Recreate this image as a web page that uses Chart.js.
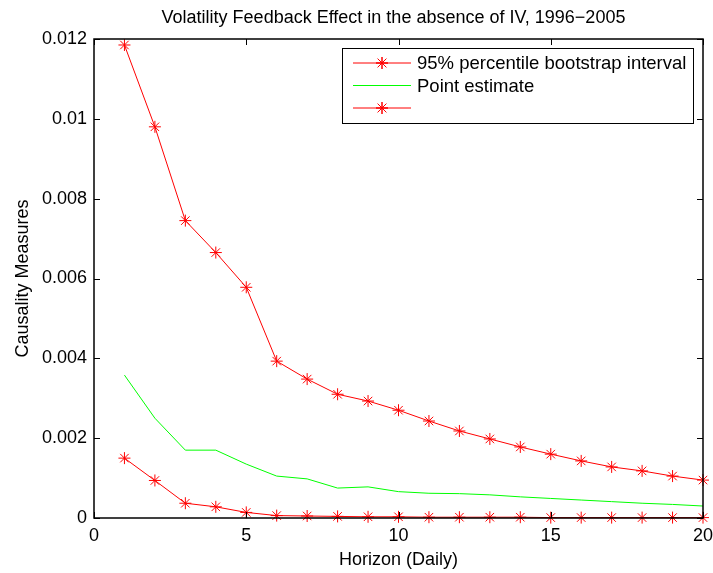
<!DOCTYPE html>
<html>
<head>
<meta charset="utf-8">
<script src="https://cdn.jsdelivr.net/npm/chart.js@4"></script>
<style>
  body { margin: 0; background: #fff; }
  #wrap { width: 713px; height: 573px; }
</style>
</head>
<body>
<div id="wrap"><canvas id="chart" width="713" height="573"></canvas></div>
<script>
// horizon (days)
var horizon = [1, 2, 3, 4, 5, 6, 7, 8, 9, 10, 11, 12, 13, 14, 15, 16, 17, 18, 19, 20];

// upper bound of the bootstrap interval
var upperBound = [0.01185, 0.0098, 0.00745, 0.00665, 0.00578, 0.00393, 0.00348, 0.0031, 0.00293, 0.0027,
                  0.00243, 0.00218, 0.00198, 0.00178, 0.0016, 0.00143, 0.00128, 0.00118, 0.00105, 0.00095];

// point estimate
var pointEstimate = [0.00358, 0.0025, 0.0017, 0.0017, 0.00135, 0.00105, 0.00098, 0.00075, 0.00078, 0.00066,
                     0.00062, 0.00061, 0.00058, 0.00053, 0.00049, 0.00045, 0.00041, 0.00037, 0.00034, 0.0003];

// lower bound of the bootstrap interval
var lowerBound = [0.0015, 0.00094, 0.00037, 0.00028, 0.00014, 0.00006, 0.00005, 0.00004, 0.00003, 0.00003,
                  0.00002, 0.00002, 0.00002, 0.00002, 0.00001, 0.00001, 0.00001, 0.00001, 0.00001, 0.00001];

var xTicks = [0, 5, 10, 15, 20];
var yTicks = [0, 0.002, 0.004, 0.006, 0.008, 0.01, 0.012];

var TITLE = 'Volatility Feedback Effect in the absence of IV, 1996\u22122005';
var FONT = "'Liberation Sans', Arial, Helvetica, sans-serif";

function toPoints(ys) {
    return horizon.map(function (x, i) { return { x: x, y: ys[i] }; });
}

// box round the axes, inward ticks on all four sides and the title over the axes (matlab style)
var matlabAxes = {
    id: 'matlabAxes',
    afterDraw: function (chart) {
        var ctx = chart.ctx, a = chart.chartArea;
        var xs = chart.scales.x, ys = chart.scales.y;
        var tl = 6;
        ctx.save();
        ctx.strokeStyle = '#000';
        ctx.lineWidth = 1.5;
        ctx.strokeRect(a.left, a.top, a.right - a.left, a.bottom - a.top);
        ctx.lineWidth = 1;
        ctx.beginPath();
        xTicks.forEach(function (v) {
            var px = Math.round(xs.getPixelForValue(v)) + 0.5;
            ctx.moveTo(px, a.bottom); ctx.lineTo(px, a.bottom - tl);
            ctx.moveTo(px, a.top); ctx.lineTo(px, a.top + tl);
        });
        yTicks.forEach(function (v) {
            var py = Math.round(ys.getPixelForValue(v)) + 0.5;
            ctx.moveTo(a.left, py); ctx.lineTo(a.left + tl, py);
            ctx.moveTo(a.right, py); ctx.lineTo(a.right - tl, py);
        });
        ctx.stroke();

        ctx.fillStyle = '#000';
        ctx.font = '18px ' + FONT;
        ctx.textAlign = 'center';
        ctx.textBaseline = 'middle';
        ctx.fillText(TITLE, (a.left + a.right) / 2 - 5, 18);
        ctx.restore();
    }
};

// legend box with line + marker samples
var matlabLegend = {
    id: 'matlabLegend',
    afterDraw: function (chart) {
        var ctx = chart.ctx, a = chart.chartArea;
        var bx = a.left + 248, by = a.top + 9, bw = 351, bh = 75;
        ctx.save();
        ctx.fillStyle = '#fff';
        ctx.fillRect(bx, by, bw, bh);
        ctx.strokeStyle = '#000';
        ctx.lineWidth = 1;
        ctx.strokeRect(bx + 0.5, by + 0.5, bw, bh);
        ctx.font = '18.5px ' + FONT;
        ctx.textBaseline = 'middle';
        chart.data.datasets.forEach(function (ds, i) {
            var y = by + 15 + i * 22.5;
            ctx.strokeStyle = ds.borderColor;
            ctx.lineWidth = 1;
            ctx.beginPath();
            ctx.moveTo(bx + 11, y); ctx.lineTo(bx + 69, y);
            ctx.stroke();
            if (ds.pointRadius > 0) {
                Chart.helpers.drawPoint(ctx, { pointStyle: 'star', radius: 6, borderWidth: 1 }, bx + 40, y);
                ctx.stroke();
            }
            ctx.fillStyle = '#000';
            ctx.fillText(ds.label, bx + 75, y + 1);
        });
        ctx.restore();
    }
};

new Chart(document.getElementById('chart'), {
    type: 'line',
    data: {
        datasets: [
            {
                label: '95% percentile bootstrap interval',
                data: toPoints(upperBound),
                borderColor: '#ff0000',
                backgroundColor: '#ff0000',
                borderWidth: 1,
                pointStyle: 'star',
                pointRadius: 6,
                pointBorderWidth: 1,
                clip: false
            },
            {
                label: 'Point estimate',
                data: toPoints(pointEstimate),
                borderColor: '#00ff00',
                backgroundColor: '#00ff00',
                borderWidth: 1,
                pointRadius: 0
            },
            {
                label: '',
                data: toPoints(lowerBound),
                borderColor: '#ff0000',
                backgroundColor: '#ff0000',
                borderWidth: 1,
                pointStyle: 'star',
                pointRadius: 6,
                pointBorderWidth: 1,
                clip: false
            }
        ]
    },
    options: {
        responsive: false,
        animation: false,
        layout: { padding: { left: 0, right: 10, top: 39, bottom: 0 } },
        plugins: {
            legend: { display: false },
            tooltip: { enabled: false },
            title: { display: false }
        },
        scales: {
            x: {
                type: 'linear',
                min: 0, max: 20,
                afterBuildTicks: function (s) { s.ticks = xTicks.map(function (v) { return { value: v }; }); },
                afterFit: function (s) { s.height = 55; s.paddingLeft = 0; s.paddingRight = 0; },
                grid: { display: false, drawTicks: false },
                border: { display: false },
                ticks: {
                    color: '#000', padding: 7, maxRotation: 0,
                    font: { family: FONT, size: 18 }
                },
                title: {
                    display: true, text: 'Horizon (Daily)', color: '#000',
                    font: { family: FONT, size: 18 },
                    padding: { top: 0, bottom: 2 }
                }
            },
            y: {
                min: 0, max: 0.012,
                afterBuildTicks: function (s) { s.ticks = yTicks.map(function (v) { return { value: v }; }); },
                afterFit: function (s) { s.width = 94; },
                grid: { display: false, drawTicks: false },
                border: { display: false },
                ticks: {
                    color: '#000', padding: 7,
                    font: { family: FONT, size: 18 },
                    callback: function (v) { return String(Number(v.toFixed(4))); }
                },
                title: {
                    display: true, text: 'Causality Measures', color: '#000',
                    font: { family: FONT, size: 18 },
                    padding: { top: 12, bottom: 0 }
                }
            }
        }
    },
    plugins: [matlabAxes, matlabLegend]
});
</script>
</body>
</html>
